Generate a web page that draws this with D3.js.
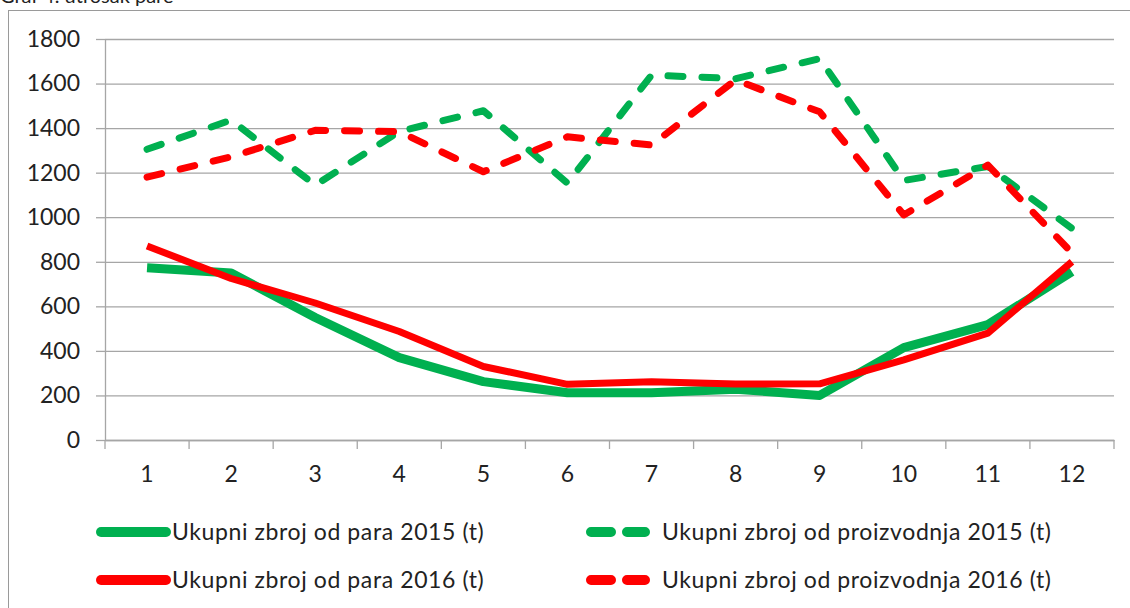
<!DOCTYPE html>
<html>
<head>
<meta charset="utf-8">
<script src="https://cdn.jsdelivr.net/npm/d3@7"></script>
<style>
  body { margin: 0; background: #fff; }
  svg { display: block; font-family: Lato, "Open Sans", sans-serif; }
</style>
</head>
<body>
<div id="chart"></div>
<script>
// months on the x axis
var months = [1, 2, 3, 4, 5, 6, 7, 8, 9, 10, 11, 12];
var yTicks = [0, 200, 400, 600, 800, 1000, 1200, 1400, 1600, 1800];

// series values (t)
var para2015 = [773, 750, 550, 370, 262, 212, 212, 228, 200, 415, 518, 755];
var proizv2015 = [1305, 1436, 1144, 1385, 1478, 1153, 1638, 1622, 1712, 1165, 1228, 950];
var para2016 = [871, 725, 615, 487, 330, 250, 262, 251, 252, 360, 480, 800];
var proizv2016 = [1180, 1271, 1390, 1384, 1204, 1361, 1324, 1616, 1473, 1010, 1234, 840];

var seriesNames = [
    "Ukupni zbroj od para 2015 (t)",
    "Ukupni zbroj od proizvodnja 2015 (t)",
    "Ukupni zbroj od para 2016 (t)",
    "Ukupni zbroj od proizvodnja 2016  (t)"
];

var series = [
    { name: seriesNames[0], values: para2015, color: "#00b050", width: 9, dash: null },
    { name: seriesNames[1], values: proizv2015, color: "#00b050", width: 7, dash: "15,19" },
    { name: seriesNames[2], values: para2016, color: "#ff0000", width: 7, dash: null },
    { name: seriesNames[3], values: proizv2016, color: "#ff0000", width: 7, dash: "15,19" }
];

var W = 1130, H = 608;
var plot = { left: 105, right: 1114, top: 39, bottom: 440 };

var svg = d3.select("#chart").append("svg")
    .attr("width", W)
    .attr("height", H);

// title, partly cut off at the top as in the source image
svg.append("text")
    .attr("x", 0)
    .attr("y", 3)
    .style("font-size", "20px")
    .style("fill", "#222")
    .text("Graf 4. utrošak pare");

// chart frame
svg.append("rect")
    .attr("x", 8.5)
    .attr("y", 10.5)
    .attr("width", W)
    .attr("height", H)
    .style("fill", "none")
    .style("stroke", "#9a9a9a")
    .style("stroke-width", 1);

var x = d3.scaleBand()
    .domain(months)
    .range([plot.left, plot.right]);

var y = d3.scaleLinear()
    .domain([0, 1800])
    .range([plot.bottom, plot.top]);

// gridlines
svg.append("g")
    .attr("class", "grid")
    .attr("transform", "translate(" + plot.left + ",0)")
    .call(d3.axisLeft(y).tickValues(yTicks).tickSize(-(plot.right - plot.left)).tickFormat(""))
    .call(function(g) { g.select(".domain").remove(); })
    .selectAll("line")
    .style("stroke", "#a6a6a6")
    .style("stroke-width", 1.3);

// y axis
var yAxis = svg.append("g")
    .attr("transform", "translate(" + plot.left + ",0)")
    .call(d3.axisLeft(y).tickValues(yTicks).tickFormat(d3.format("d"))
        .tickSize(9).tickPadding(16).tickSizeOuter(0));
yAxis.select(".domain").style("stroke", "#a6a6a6").style("stroke-width", 1.3);
yAxis.selectAll(".tick line").style("stroke", "#a6a6a6").style("stroke-width", 1.3);
yAxis.selectAll("text")
    .style("font-family", "Lato, sans-serif")
    .style("font-size", "23px")
    .style("fill", "#222");

// x axis: labels centred in bands, ticks at band edges
var xAxis = svg.append("g")
    .attr("transform", "translate(0," + plot.bottom + ")")
    .call(d3.axisBottom(x).tickSize(0).tickPadding(26).tickSizeOuter(0));
xAxis.select(".domain").style("stroke", "#a6a6a6").style("stroke-width", 1.3);
xAxis.selectAll("text")
    .style("font-family", "Lato, sans-serif")
    .style("font-size", "23px")
    .style("fill", "#222");

var edges = months.map(function(m) { return x(m); }).concat([x(months[months.length - 1]) + x.bandwidth()]);
xAxis.selectAll(".edge")
    .data(edges)
    .enter().append("line")
    .attr("class", "edge")
    .attr("x1", function(d) { return d; })
    .attr("x2", function(d) { return d; })
    .attr("y1", 0)
    .attr("y2", 9)
    .style("stroke", "#a6a6a6")
    .style("stroke-width", 1.3);

// lines
var line = d3.line()
    .x(function(d, i) { return x(months[i]) + x.bandwidth() / 2; })
    .y(function(d) { return y(d); });

svg.selectAll(".series")
    .data(series)
    .enter().append("path")
    .attr("class", "series")
    .attr("d", function(d) { return line(d.values); })
    .style("fill", "none")
    .style("stroke", function(d) { return d.color; })
    .style("stroke-width", function(d) { return d.width; })
    .style("stroke-linejoin", "round")
    .style("stroke-linecap", function(d) { return d.dash ? "round" : "butt"; })
    .style("stroke-dasharray", function(d) { return d.dash; });

// legend
var legendPos = [
    { sx: 97, sy: 532, tx: 172 },
    { sx: 587, sy: 532, tx: 662 },
    { sx: 97, sy: 580, tx: 172 },
    { sx: 587, sy: 580, tx: 662 }
];

var legend = svg.selectAll(".legend")
    .data(series)
    .enter().append("g")
    .attr("class", "legend")
    .attr("transform", function(d, i) { return "translate(0," + legendPos[i].sy + ")"; });

legend.append("line")
    .attr("x1", function(d, i) { return legendPos[i].sx + 4; })
    .attr("x2", function(d, i) { return d.dash ? legendPos[i].sx + 58 : legendPos[i].sx + 69; })
    .attr("y1", 0)
    .attr("y2", 0)
    .style("stroke", function(d) { return d.color; })
    .style("stroke-width", 10)
    .style("stroke-linecap", "round")
    .style("stroke-dasharray", function(d) { return d.dash ? "20,16" : null; });

legend.append("text")
    .attr("x", function(d, i) { return legendPos[i].tx; })
    .attr("y", 0)
    .attr("dy", "0.35em")
    .style("font-size", "23px")
    .style("letter-spacing", "0.6px")
    .style("fill", "#222")
    .text(function(d) { return d.name; });
</script>
</body>
</html>
